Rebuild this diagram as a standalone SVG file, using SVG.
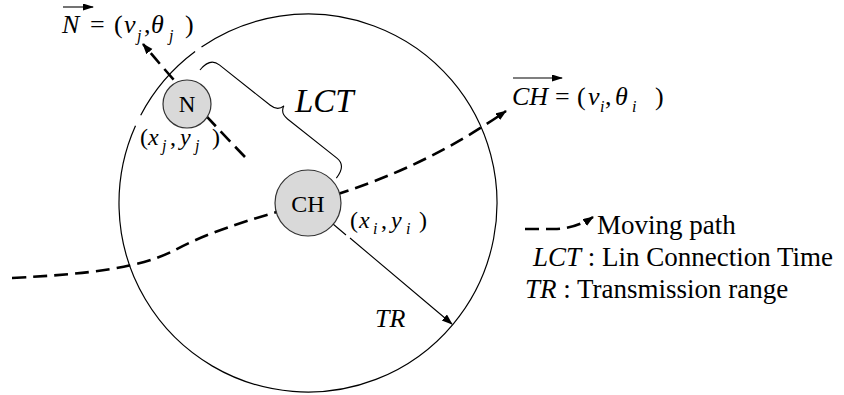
<svg xmlns="http://www.w3.org/2000/svg" width="844" height="395" viewBox="0 0 844 395">
<style>
text{font-family:"Liberation Serif","Times New Roman",serif;fill:#000}
.it{font-style:italic}
.eq{font-size:26px}
.sm{font-size:24px}
.sub{font-size:16px}
.leg{font-size:27px}
.move{fill:none;stroke:#000;stroke-width:2.6;stroke-dasharray:14 7}
.thin{fill:none;stroke:#000;stroke-width:1.1}
.node circle{fill:#d9d9d9;stroke:#333;stroke-width:1.2}
.range{fill:none;stroke:#000;stroke-width:1.2}
</style>
<defs>
<marker id="ah" markerWidth="12" markerHeight="10" refX="10" refY="4" orient="auto" markerUnits="userSpaceOnUse"><path d="M0,0 L11,4 L0,8 z" fill="#000"/></marker>
<marker id="vh" markerWidth="12" markerHeight="8" refX="10" refY="3.5" orient="auto" markerUnits="userSpaceOnUse"><path d="M0,0 L11,3.5 L0,7 z" fill="#000"/></marker>
</defs>

<g id="range">
<path class="range" d="M201.5,46.9 A189,189 0 1 1 135.5,125.8"/>
<path class="range" d="M140.7,115.2 A189,189 0 0 1 195.1,51.5"/>
</g>

<g id="connectors">
<path id="ch-path" class="move" d="M12,278 C90,274 140,268 175,250 C205,234 240,222 308,203 C390,180 450,150 506,111" marker-end="url(#ah)"/>
<path id="n-path" class="move" d="M245,157 Q190,100 143,44" marker-end="url(#ah)"/>
<path id="tr-arrow" class="thin" d="M333,224 L346,235 M350,238 L452,324" marker-end="url(#ah)"/>
<path id="lct-brace" class="thin" transform="translate(200,70) rotate(38.4)" d="M0,0 C0,-10 4,-16 12,-16 L77,-16 C83,-16 87,-19 88,-24 C89,-19 93,-16 99,-16 L162,-16 C170,-16 174,-10 174,0"/>
<path id="ch-vec" class="thin" d="M513,78 L562,78" marker-end="url(#vh)"/>
<path id="n-vec" class="thin" d="M63,7 L93,7" marker-end="url(#vh)"/>
</g>

<g id="node-N" class="node">
<circle cx="187" cy="104" r="24"/>
<text x="187" y="112" font-size="23" text-anchor="middle">N</text>
</g>
<g id="node-CH" class="node">
<circle cx="308" cy="203" r="33"/>
<text x="308" y="212" font-size="24" text-anchor="middle">CH</text>
</g>

<g id="labels">
<text class="eq" y="33"><tspan class="it" x="62">N</tspan><tspan x="90">=</tspan><tspan x="114">(</tspan><tspan class="it" x="124">v</tspan><tspan class="it sub" x="137" y="41">j</tspan><tspan x="144" y="33">,</tspan><tspan class="it" x="151">θ</tspan><tspan class="it sub" x="169" y="41">j</tspan><tspan x="185" y="33">)</tspan></text>
<text class="eq" y="105"><tspan class="it" x="512">CH</tspan><tspan x="555">=</tspan><tspan x="577">(</tspan><tspan class="it" x="588">v</tspan><tspan class="it sub" x="600" y="112">i</tspan><tspan x="605" y="105">,</tspan><tspan class="it" x="615">θ</tspan><tspan class="it sub" x="632" y="112">i</tspan><tspan x="655" y="105">)</tspan></text>
<text class="sm" y="145"><tspan x="140">(</tspan><tspan class="it" x="148">x</tspan><tspan class="it sub" x="162" y="151">j</tspan><tspan x="170" y="145">,</tspan><tspan class="it" x="180">y</tspan><tspan class="it sub" x="195" y="151">j</tspan><tspan x="212" y="145">)</tspan></text>
<text class="sm" y="228"><tspan x="350">(</tspan><tspan class="it" x="359">x</tspan><tspan class="it sub" x="373" y="234">i</tspan><tspan x="381" y="228">,</tspan><tspan class="it" x="391">y</tspan><tspan class="it sub" x="406" y="234">i</tspan><tspan x="419" y="228">)</tspan></text>
<text class="it" x="295" y="112" font-size="33">LCT</text>
<text class="it" x="375" y="327" font-size="26">TR</text>
</g>

<g id="legend">
<path class="move" d="M525,229 L554,229 Q575,229 593,217" stroke-dasharray="9 5 15 16 40" marker-end="url(#ah)"/>
<text class="leg" x="597" y="234">Moving path</text>
<text class="leg" y="266"><tspan class="it" x="533">LCT</tspan><tspan> : Lin Connection Time</tspan></text>
<text class="leg" y="298"><tspan class="it" x="525">TR</tspan><tspan> : Transmission range</tspan></text>
</g>
</svg>
